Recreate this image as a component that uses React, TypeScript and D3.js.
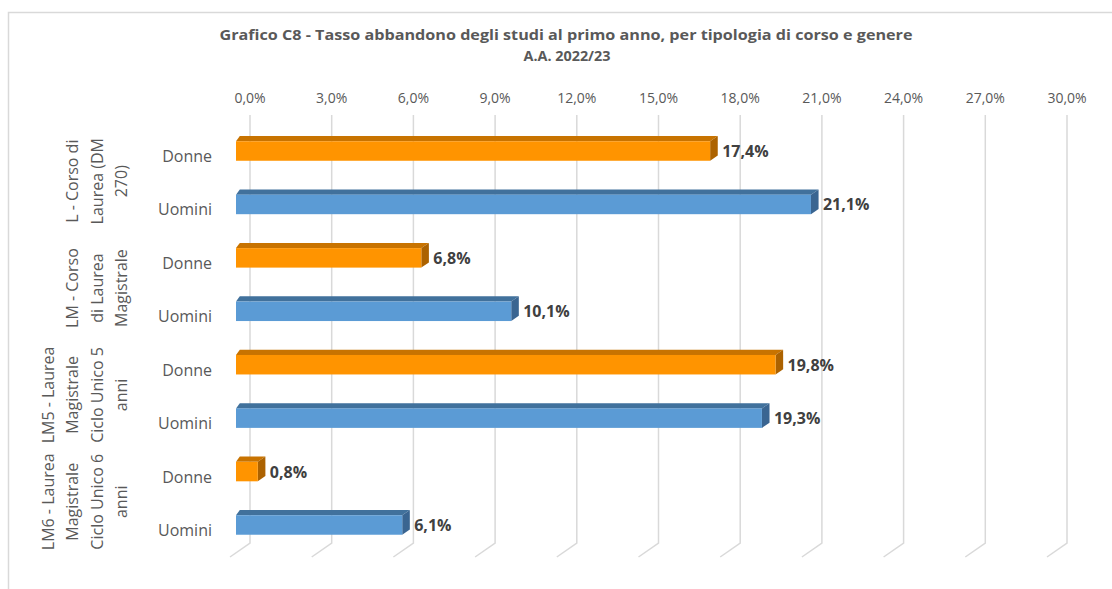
import React from "react";
import * as d3 from "d3";

const titleLines = [
  "Grafico C8 - Tasso abbandono degli studi al primo anno, per tipologia di corso e genere",
  "A.A. 2022/23",
];
const groupLabels = [
  ["L - Corso di", "Laurea (DM", "270)"],
  ["LM - Corso", "di Laurea", "Magistrale"],
  ["LM5 - Laurea", "Magistrale", "Ciclo Unico 5", "anni"],
  ["LM6 - Laurea", "Magistrale", "Ciclo Unico 6", "anni"],
];
const genders = ["Donne", "Uomini"];
const donneValues = [17.4, 6.8, 19.8, 0.8];
const uominiValues = [21.1, 10.1, 19.3, 6.1];
const tickValues = [0, 3, 6, 9, 12, 15, 18, 21, 24, 27, 30];

const colors = {
  Donne: { front: "#FF9400", top: "#C87300", side: "#AC6200" },
  Uomini: { front: "#5B9BD5", top: "#41719C", side: "#3A6591" },
};

const fmt = (v: number) => d3.format(".1f")(v).replace(".", ",") + "%";

export default function App() {
  const W = 1112;
  const H = 589;
  const font = "'Open Sans', 'Liberation Sans', sans-serif";
  const xFront = d3.scaleLinear().domain([0, 30]).range([236, 1053.5]);
  const xBack = d3.scaleLinear().domain([0, 30]).range([250, 1067]);

  const rows = groupLabels.flatMap((_, i) =>
    genders.map((g, j) => ({
      key: `${i}-${j}`,
      group: i,
      gender: g as "Donne" | "Uomini",
      value: j === 0 ? donneValues[i] : uominiValues[i],
    }))
  );
  const y = d3
    .scaleBand<string>()
    .domain(rows.map((r) => r.key))
    .range([124.3, 551.7])
    .paddingInner(0.635)
    .paddingOuter(0.3175);
  const bw = y.bandwidth();
  const dx = 7.6;
  const dy = -5.2;
  const gridTop = 115;
  const gridBottom = 543;

  return (
    <svg
      width={W}
      height={H}
      style={{ position: "absolute", left: 0, top: 0, background: "#fff" }}
      fontFamily={font}
    >
      <rect x={0} y={0} width={W} height={H} fill="#fff" />
      <path
        d={`M8.5,${H + 2} L8.5,12.5 L${W + 2},12.5`}
        fill="none"
        stroke="#D9D9D9"
        strokeWidth={1.5}
      />
      {/* title */}
      <text
        x={566}
        y={40}
        textAnchor="middle"
        fontSize={14}
        fontWeight="bold"
        fill="#595959"
        textLength={693}
        lengthAdjust="spacingAndGlyphs"
      >
        {titleLines[0]}
      </text>
      <text
        x={567}
        y={61}
        textAnchor="middle"
        fontSize={14}
        fontWeight="bold"
        fill="#595959"
        textLength={87}
        lengthAdjust="spacingAndGlyphs"
      >
        {titleLines[1]}
      </text>
      {/* gridlines */}
      {tickValues.map((t) => (
        <g key={t}>
          <path
            d={`M${xBack(t)},${gridTop} L${xBack(t)},${gridBottom} L${xBack(t) - 20},${gridBottom + 14}`}
            fill="none"
            stroke="#D9D9D9"
            strokeWidth={1.5}
          />
          <text
            x={xBack(t)}
            y={103}
            textAnchor="middle"
            fontSize={14}
            fill="#595959"
          >
            {fmt(t)}
          </text>
        </g>
      ))}
      {/* bars */}
      {rows.map((r) => {
        const c = colors[r.gender];
        const x0 = xFront(0);
        const x1 = xFront(r.value);
        const yt = y(r.key)!;
        const yb = yt + bw;
        return (
          <g key={r.key}>
            <polygon
              points={`${x0},${yt} ${x0 + dx * 0.5},${yt + dy} ${x1 + dx},${yt + dy} ${x1},${yt}`}
              fill={c.top}
            />
            <polygon
              points={`${x1},${yt} ${x1 + dx},${yt + dy} ${x1 + dx},${yb + dy} ${x1},${yb}`}
              fill={c.side}
            />
            <rect x={x0} y={yt} width={x1 - x0} height={bw} fill={c.front} />
            <text
              x={x1 + 12}
              y={yt + bw / 2 + 6}
              fontSize={16}
              fontWeight="bold"
              fill="#404040"
            >
              {fmt(r.value)}
            </text>
            <text
              x={212}
              y={yt + bw / 2 + 11}
              textAnchor="end"
              fontSize={16}
              fill="#595959"
            >
              {r.gender}
            </text>
          </g>
        );
      })}
      {/* group labels */}
      {groupLabels.map((lines, i) => {
        const cy = (y(`${i}-0`)! + y(`${i}-1`)! + bw) / 2 + 3.5;
        return (
          <g key={i}>
            {lines.map((ln, k) => {
              const bx = 127 - (lines.length - 1 - k) * 24.5;
              return (
                <text
                  key={k}
                  transform={`translate(${bx},${cy}) rotate(-90)`}
                  textAnchor="middle"
                  fontSize={16}
                  fill="#595959"
                >
                  {ln}
                </text>
              );
            })}
          </g>
        );
      })}
    </svg>
  );
}
